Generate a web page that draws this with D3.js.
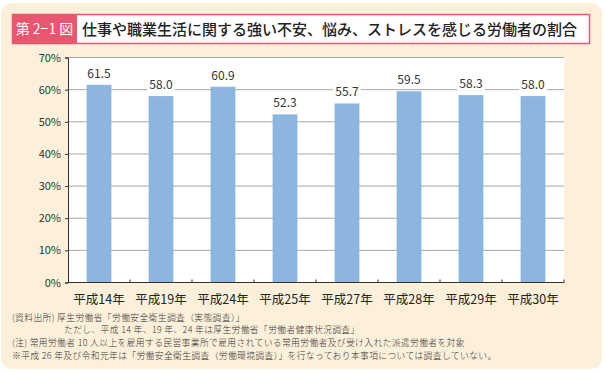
<!DOCTYPE html>
<html>
<head>
<meta charset="utf-8">
<script src="https://cdn.jsdelivr.net/npm/d3@7"></script>
<style>
  html,body{margin:0;padding:0;background:#fff;}
  svg{display:block;}
</style>
</head>
<body>
<div id="chart"></div>
<script>
// data
const categories = ["平成14年","平成19年","平成24年","平成25年","平成27年","平成28年","平成29年","平成30年"];
const values = [61.5, 58.0, 60.9, 52.3, 55.7, 59.5, 58.3, 58.0];
const yTicks = [0,10,20,30,40,50,60,70];
const notes = [
  {t:"(資料出所) 厚生労働省「労働安全衛生調査（実態調査）」", indent:false},
  {t:"ただし、平成 14 年、19 年、24 年は厚生労働省「労働者健康状況調査」", indent:true},
  {t:"(注) 常用労働者 10 人以上を雇用する民営事業所で雇用されている常用労働者及び受け入れた派遣労働者を対象", indent:false},
  {t:"※平成 26 年及び令和元年は「労働安全衛生調査（労働環境調査）」を行なっており本事項については調査していない。", indent:false}
];

const W=605, H=374;
const MG={t:57.5,r:41,b:91.5,l:68};
const iW=W-MG.l-MG.r, iH=H-MG.t-MG.b;
const FONT="'Noto Sans CJK JP','Noto Sans',sans-serif";

const svg=d3.select("#chart").append("svg").attr("width",W).attr("height",H);

// cream panel + title
svg.append("rect").attr("x",1).attr("y",3).attr("width",601).attr("height",366)
  .attr("rx",11).attr("fill","#fdf0da");
svg.append("rect").attr("x",12.5).attr("y",14.5).attr("width",577).attr("height",29)
  .attr("fill","#fff").attr("stroke","#e8566f").attr("stroke-width",1.5);
svg.append("rect").attr("x",12).attr("y",14).attr("width",65).attr("height",30).attr("fill","#e8566f");
svg.append("text").attr("x",44.5).attr("y",34).attr("text-anchor","middle")
  .attr("fill","#fff").attr("font-family",FONT).attr("font-size",14).text("第 2−1 図");
svg.append("text").attr("x",82).attr("y",34.5)
  .attr("fill","#222").attr("font-family",FONT).attr("font-size",15).attr("font-weight",500)
  .text("仕事や職業生活に関する強い不安、悩み、ストレスを感じる労働者の割合");

const g=svg.append("g").attr("transform",`translate(${MG.l},${MG.t})`);
g.append("rect").attr("width",iW).attr("height",iH).attr("fill","#fff");

const x=d3.scaleBand().domain(categories).range([0,iW]).paddingInner(0.6).paddingOuter(0.3);
const y=d3.scaleLinear().domain([0,70]).range([iH,0]);

// gridlines
g.append("g").selectAll("line").data(yTicks.filter(d=>d>0)).join("line")
  .attr("x1",0).attr("x2",iW).attr("y1",d=>y(d)).attr("y2",d=>y(d))
  .attr("stroke","#a8a8a8").attr("stroke-width",1);

// bars
g.append("g").selectAll("rect").data(values).join("rect")
  .attr("x",(d,i)=>x(categories[i])).attr("width",x.bandwidth())
  .attr("y",d=>y(d)).attr("height",d=>iH-y(d))
  .attr("fill","#8db6de");

// value labels with white backing
const lab=g.append("g").selectAll("g").data(values).join("g")
  .attr("transform",(d,i)=>`translate(${x(categories[i])+x.bandwidth()/2},${y(d)-7})`);
lab.append("rect").attr("x",-14).attr("y",-12).attr("width",28).attr("height",14).attr("fill","#fff");
lab.append("text").attr("text-anchor","middle").attr("fill","#333")
  .attr("font-family",FONT).attr("font-size",12).text(d=>d.toFixed(1));

// y axis
const ya=g.append("g").call(d3.axisLeft(y).tickValues(yTicks).tickSize(3).tickFormat(d=>d+"%"));
ya.select(".domain").attr("stroke","#333");
ya.selectAll(".tick line").attr("stroke","#333");
ya.selectAll("text").attr("fill","#333").attr("font-family",FONT).attr("font-size",11).attr("x",-7);

// x axis
g.append("line").attr("x1",0).attr("x2",iW).attr("y1",iH).attr("y2",iH).attr("stroke","#333").attr("stroke-width",1.2);
const step=x.step();
g.append("g").selectAll("line").data(d3.range(1,categories.length+1)).join("line")
  .attr("x1",d=>d*step).attr("x2",d=>d*step).attr("y1",iH).attr("y2",iH-3)
  .attr("stroke","#333");
g.append("g").selectAll("text").data(categories).join("text")
  .attr("x",d=>x(d)+x.bandwidth()/2).attr("y",iH+21).attr("text-anchor","middle")
  .attr("fill","#222").attr("font-family",FONT).attr("font-size",12.5).text(d=>d);

// footnotes
svg.append("g").selectAll("text").data(notes).join("text")
  .attr("x",d=>d.indent?64:12).attr("y",(d,i)=>320.5+i*12.8)
  .attr("fill","#333").attr("font-family",FONT).attr("font-size",8.8).attr("font-weight",300)
  .attr("letter-spacing",0.35)
  .text(d=>d.t);
</script>
</body>
</html>
